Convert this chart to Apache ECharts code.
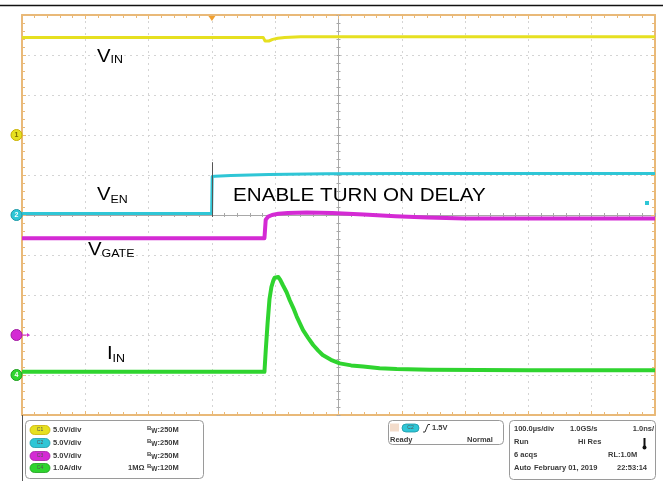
<!DOCTYPE html>
<html>
<head>
<meta charset="utf-8">
<script src="https://cdn.jsdelivr.net/npm/echarts@6/dist/echarts.min.js"></script>
<style>
  html, body { margin: 0; padding: 0; background: #ffffff; }
  #scope { width: 663px; height: 487px; }
</style>
</head>
<body>
<div id="scope"></div>
<script>
// ---- Captured waveforms (time in µs relative to screen centre, 100 µs/div) ----
const vinTime   = [-500, -119, -116, -113, -110, -104, -96, -85, -60, 500];
const vinVolts  = [12.2, 12.2, 11.75, 11.65, 11.75, 11.95, 12.1, 12.2, 12.28, 12.28];

const venTime   = [-500, -200.5, -199.5, -195, -170, -110, -20, 100, 500];
const venVolts  = [0.2, 0.2, 4.8, 4.85, 4.95, 5.05, 5.15, 5.2, 5.2];

const vgateTime  = [-500, -117, -115, -111, -105, -95, -80, -50, -10, 40, 90, 140, 200, 500];
const vgateVolts = [12.1, 12.1, 14.4, 14.8, 15.0, 15.15, 15.25, 15.3, 15.25, 15.05, 14.85, 14.7, 14.55, 14.55];

const iinTime = [-500, -117, -115, -112, -109, -106, -103, -101, -98, -95, -92, -88, -82, -77, -71, -66, -61, -56,
                 -48, -40, -32, -25, -12, 2, 20, 39, 65, 92, 144, 300, 500];
const iinAmps = [0.08, 0.08, 0.6, 1.3, 1.9, 2.2, 2.36, 2.43, 2.47, 2.45, 2.38, 2.25, 2.07, 1.87, 1.66, 1.46, 1.29, 1.12,
                 0.93, 0.75, 0.61, 0.5, 0.38, 0.29, 0.24, 0.21, 0.17, 0.15, 0.13, 0.12, 0.12];

// Channel setup: scale per division and ground position (divisions above the bottom edge)
const chNames   = ['C1', 'C2', 'C3', 'C4'];
const chPerDiv  = [5, 5, 5, 1];
const chGndDiv  = [7, 5, 2, 1];
const chColors  = ['#e6e020', '#2fc6d6', '#d42ad4', '#2fd42f'];
const chSetting = ['5.0V/div', '5.0V/div', '5.0V/div', '1.0A/div'];

// Trigger: channel 2, rising edge, 1.5 V at t = -200 µs
const trigTime  = -200;
const trigLevel = 1.5;

const pairs = (xs, ys) => xs.map((x, i) => [x, ys[i]]);

const ORANGE = '#e9b978';
const GRIDC  = '#d4d4d4';
const CENTRE = '#a8a8a8';
const FONT   = '"Liberation Sans", Arial, sans-serif';

const chart = echarts.init(document.getElementById('scope'), null, { renderer: 'canvas' });

const borderX = (pos, split) => ({
  type: 'value', min: -500, max: 500, interval: 100, position: pos,
  axisLine: { onZero: false, lineStyle: { color: ORANGE, width: 2 } },
  axisTick: { show: true, inside: true, length: 4, lineStyle: { color: ORANGE, width: 1 } },
  minorTick: { show: true, splitNumber: 5, length: 3, lineStyle: { color: ORANGE, width: 1 } },
  axisLabel: { show: false },
  splitLine: { show: split, lineStyle: { color: GRIDC, width: 1, type: [2, 4] } }
});
const borderY = (pos, split) => ({
  type: 'value', min: -5, max: 5, interval: 1, position: pos,
  axisLine: { onZero: false, lineStyle: { color: ORANGE, width: 2 } },
  axisTick: { show: true, inside: true, length: 4, lineStyle: { color: ORANGE, width: 1 } },
  minorTick: { show: true, splitNumber: 5, length: 3, lineStyle: { color: ORANGE, width: 1 } },
  axisLabel: { show: false },
  splitLine: { show: split, lineStyle: { color: GRIDC, width: 1, type: [2, 4] } }
});
const centreX = (inside) => ({
  type: 'value', min: -500, max: 500, interval: 100, position: 'bottom',
  axisLine: { onZero: true, onZeroAxisIndex: 0, lineStyle: { color: CENTRE, width: 1 } },
  axisTick: { show: true, inside: inside, length: 2, lineStyle: { color: CENTRE } },
  minorTick: { show: true, splitNumber: 5, length: 2, lineStyle: { color: CENTRE } },
  axisLabel: { show: false }, splitLine: { show: false }
});
const centreY = (inside) => ({
  type: 'value', min: -5, max: 5, interval: 1, position: 'left',
  axisLine: { onZero: true, onZeroAxisIndex: 0, lineStyle: { color: CENTRE, width: 1 } },
  axisTick: { show: true, inside: inside, length: 2, lineStyle: { color: CENTRE } },
  minorTick: { show: true, splitNumber: 5, length: 2, lineStyle: { color: CENTRE } },
  axisLabel: { show: false }, splitLine: { show: false }
});
const channelY = (k) => ({
  type: 'value', show: false,
  min: -chGndDiv[k] * chPerDiv[k],
  max: (10 - chGndDiv[k]) * chPerDiv[k]
});

const trace = (name, k, data, width, extra) => Object.assign({
  name: name, type: 'line', xAxisIndex: 0, yAxisIndex: 4 + k,
  data: data, showSymbol: false, symbol: 'none', animation: false,
  lineStyle: { color: chColors[k], width: width, join: 'round' },
  itemStyle: { color: chColors[k] }, z: 3
}, extra || {});

chart.setOption({
  animation: false,
  backgroundColor: '#ffffff',
  grid: { left: 22, top: 15, width: 633, height: 400, containLabel: false },
  xAxis: [borderX('bottom', true), borderX('top', false), centreX(true), centreX(false)],
  yAxis: [borderY('left', true), borderY('right', false), centreY(true), centreY(false),
          channelY(0), channelY(1), channelY(2), channelY(3)],
  series: [
    trace('VIN', 0, pairs(vinTime, vinVolts), 3),
    trace('VEN', 1, pairs(venTime, venVolts), 3, {
      markLine: {
        silent: true, symbol: 'none', animation: false,
        label: { show: false },
        lineStyle: { color: '#555555', width: 1, type: 'solid' },
        data: [[{ coord: [trigTime, -0.25] }, { coord: [trigTime, 6.6] }]]
      }
    }),
    trace('VGATE', 2, pairs(vgateTime, vgateVolts), 4),
    trace('IIN', 3, pairs(iinTime, iinAmps), 4)
  ]
});

// ---- Annotations, channel markers and the status panel ----
const g = [];
const txt = (x, y, s, size, opt) => {
  opt = opt || {};
  g.push({
    type: 'text', x: x, y: y, z: 20, scaleX: opt.scaleX || 1,
    style: {
      text: s, fill: opt.color || '#000', align: opt.align || 'left', verticalAlign: 'middle',
      fontSize: size, fontFamily: FONT, fontWeight: opt.bold ? 'bold' : 'normal',
      rich: opt.rich
    }
  });
};

// Signal names with subscripts
const SX = 1.13;
const named = (x, y, main, sub, subDy) => {
  txt(x, y, main, 18, { scaleX: SX });
  const w = main === 'I' ? 5.6 : 13.5;
  txt(x + w, y + subDy, sub, 11, { scaleX: SX });
};
named(97, 57.5, 'V', 'IN', 2.5);
named(97, 195, 'V', 'EN', 5);
named(88, 250, 'V', 'GATE', 3.5);
named(107, 354.5, 'I', 'IN', 4.5);
txt(233, 196.5, 'ENABLE TURN ON DELAY', 18, { scaleX: 1.145 });

// Ground markers on the left edge
const markerLabels = ['1', '2', '', '4'];
const markerStroke = ['#c9b000', '#1c98a6', '#a01ca0', '#1c9e1c'];
for (let k = 0; k < 4; k++) {
  const py = chart.convertToPixel({ yAxisIndex: 4 + k }, 0);
  g.push({ type: 'circle', z: 21, shape: { cx: 16.5, cy: py, r: 5.5 },
           style: { fill: chColors[k], stroke: markerStroke[k], lineWidth: 1 } });
  if (markerLabels[k]) {
    g.push({ type: 'text', z: 22, x: 16.5, y: py,
             style: { text: markerLabels[k], fontSize: 7, fontFamily: FONT, fontWeight: 'bold',
                      fill: k === 0 ? '#7a6a00' : '#ffffff', align: 'center', verticalAlign: 'middle' } });
  }
}
{
  const py = chart.convertToPixel({ yAxisIndex: 6 }, 0);
  g.push({ type: 'polyline', z: 21, shape: { points: [[22, py], [28, py]] },
           style: { stroke: chColors[2], lineWidth: 1 } });
  g.push({ type: 'polygon', z: 21, shape: { points: [[27, py - 2], [30, py], [27, py + 2]] },
           style: { fill: chColors[2] } });
}

// Trigger position (top) and trigger level (right)
{
  const px = chart.convertToPixel({ xAxisIndex: 0 }, trigTime);
  g.push({ type: 'polygon', z: 21, shape: { points: [[px - 3.5, 16], [px + 3.5, 16], [px, 21]] },
           style: { fill: '#f0a030' } });
  const py = chart.convertToPixel({ yAxisIndex: 5 }, trigLevel);
  g.push({ type: 'rect', z: 21, shape: { x: 645, y: py - 2, width: 4, height: 4 },
           style: { fill: chColors[1] } });
}

// Top rule
g.push({ type: 'line', z: 20, shape: { x1: 0, y1: 5.5, x2: 663, y2: 5.5 },
         style: { stroke: '#111', lineWidth: 1.5 } });

// Status panel frames
const box = (x, y, w, h) => g.push({ type: 'rect', z: 20, shape: { x: x, y: y, width: w, height: h, r: 4 },
                                     style: { fill: '#ffffff', stroke: '#9a9a9a', lineWidth: 1 } });
g.push({ type: 'line', z: 20, shape: { x1: 22.5, y1: 415, x2: 22.5, y2: 481 },
         style: { stroke: '#555', lineWidth: 1 } });
box(25.5, 420.5, 178, 58);
box(388.5, 420.5, 115, 24);
box(509.5, 420.5, 146, 59);

const PF = 7.5, PC = '#3a3a3a';
const rowsY = [430, 443, 456, 468];
const bwRich = {
  b: { fontSize: 6, fontFamily: FONT, fontWeight: 'bold', fill: PC, verticalAlign: 'top' },
  w: { fontSize: 6.5, fontFamily: FONT, fontWeight: 'bold', fill: PC, verticalAlign: 'bottom' },
  n: { fontSize: PF, fontFamily: FONT, fontWeight: 'bold', fill: PC, lineHeight: 10 }
};
const bwText = ['250M', '250M', '250M', '120M'];
for (let k = 0; k < 4; k++) {
  const y = rowsY[k];
  g.push({ type: 'rect', z: 21, shape: { x: 30, y: y - 4.5, width: 20, height: 9, r: 4.5 },
           style: { fill: chColors[k], stroke: markerStroke[k], lineWidth: 0.8 } });
  g.push({ type: 'text', z: 22, x: 40, y: y,
           style: { text: chNames[k], fontSize: 5, fontFamily: FONT, fill: '#555', align: 'center', verticalAlign: 'middle' } });
  txt(53, y, chSetting[k], PF, { bold: true, color: PC });
  txt(147, y, '{b|B}{w|W}{n|:' + bwText[k] + '}', PF, { bold: true, color: PC, rich: bwRich });
}
txt(128, rowsY[3], '1MΩ', PF, { bold: true, color: PC });

// Trigger readout
g.push({ type: 'rect', z: 21, shape: { x: 390, y: 423.5, width: 9, height: 8 }, style: { fill: '#f3dccb' } });
txt(391, 428, "A'", PF, { bold: true, color: PC });
g.push({ type: 'rect', z: 21, shape: { x: 402, y: 424, width: 17, height: 8, r: 4 },
         style: { fill: chColors[1], stroke: markerStroke[1], lineWidth: 0.8 } });
g.push({ type: 'text', z: 22, x: 410.5, y: 428,
         style: { text: 'C2', fontSize: 5, fontFamily: FONT, fill: '#555', align: 'center', verticalAlign: 'middle' } });
g.push({ type: 'polyline', z: 21, shape: { points: [[423, 432], [425, 432], [428, 424.5], [430, 424.5]] },
         style: { stroke: '#333', lineWidth: 1 } });
txt(432, 428, '1.5V', PF, { bold: true, color: PC });
txt(390, 440, 'Ready', PF, { bold: true, color: PC });
txt(467, 440, 'Normal', PF, { bold: true, color: PC });

// Acquisition readout
txt(514, 429, '100.0µs/div', PF, { bold: true, color: PC });
txt(570, 429, '1.0GS/s', PF, { bold: true, color: PC });
txt(654, 429, '1.0ns/', PF, { bold: true, color: PC, align: 'right' });
txt(514, 442, 'Run', PF, { bold: true, color: PC });
txt(578, 442, 'Hi Res', PF, { bold: true, color: PC });
g.push({ type: 'rect', z: 21, shape: { x: 643.5, y: 438, width: 2, height: 9 }, style: { fill: '#111' } });
g.push({ type: 'circle', z: 21, shape: { cx: 644.5, cy: 447.5, r: 2 }, style: { fill: '#111' } });
txt(514, 455, '6 acqs', PF, { bold: true, color: PC });
txt(608, 455, 'RL:1.0M', PF, { bold: true, color: PC });
txt(514, 468, 'Auto', PF, { bold: true, color: PC });
txt(534, 468, 'February 01, 2019', PF, { bold: true, color: PC });
txt(617, 468, '22:53:14', PF, { bold: true, color: PC });

chart.setOption({ graphic: g });
</script>
</body>
</html>
